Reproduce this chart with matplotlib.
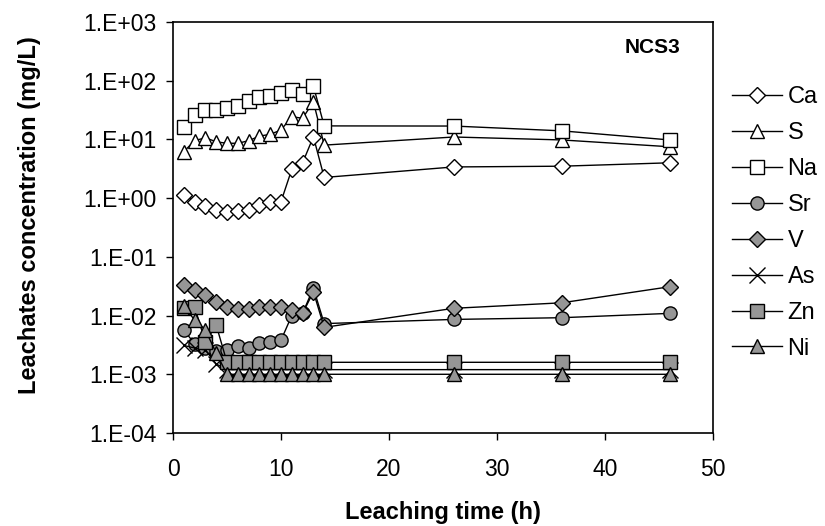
#!/usr/bin/env python3
"""Leachate concentrations over time for sample NCS3 (log scale)."""

import matplotlib

matplotlib.use("Agg")
import matplotlib.pyplot as plt
import numpy as np
from matplotlib.ticker import FixedLocator, FuncFormatter

plt.rcParams["font.family"] = ["Liberation Sans", "DejaVu Sans"]

time_h = [1, 2, 3, 4, 5, 6, 7, 8, 9, 10, 11, 12, 13, 14, 26, 36, 46]

ca = [1.15, 0.87, 0.73, 0.64, 0.57, 0.61, 0.64, 0.76, 0.85, 0.87, 3.1, 4.0, 11.1, 2.25, 3.4, 3.5, 4.0]
s = [6.2, 9.5, 10.7, 9.1, 8.6, 8.6, 9.5, 11.4, 12.2, 14.5, 24.4, 22.9, 43.9, 8.0, 11.0, 9.8, 7.5]
na = [16.4, 26.0, 31.7, 31.7, 33.9, 37.0, 45.0, 53.0, 55.0, 62.0, 69.5, 58.6, 81.0, 17.0, 16.9, 14.0, 9.8]
sr = [0.0057, 0.0033, 0.0028, 0.0025, 0.0026, 0.0030, 0.0028, 0.0034, 0.0036, 0.0038, 0.0100, 0.0109, 0.0295, 0.0073, 0.0086, 0.0092, 0.0109]
v = [0.033, 0.027, 0.022, 0.017, 0.014, 0.013, 0.013, 0.0138, 0.0138, 0.014, 0.0124, 0.0109, 0.0254, 0.0063, 0.0133, 0.0165, 0.031]
as_ = [0.0031, 0.0028, 0.0026, 0.0015, 0.0012, 0.0012, 0.0012, 0.0012, 0.0012, 0.0012, 0.0012, 0.0012, 0.0012, 0.0012, 0.0012, 0.0012, 0.0012]
zn = [0.0133, 0.0141, 0.0035, 0.0069, 0.0016, 0.0016, 0.0016, 0.0016, 0.0016, 0.0016, 0.0016, 0.0016, 0.0016, 0.0016, 0.0016, 0.0016, 0.0016]
ni = [0.0145, 0.0084, 0.0057, 0.0023, 0.001, 0.001, 0.001, 0.001, 0.001, 0.001, 0.001, 0.001, 0.001, 0.001, 0.001, 0.001, 0.001]

labels = ["Ca", "S", "Na", "Sr", "V", "As", "Zn", "Ni"]
y_ticks = [1e-4, 1e-3, 1e-2, 1e-1, 1e0, 1e1, 1e2, 1e3]

GREY = "#969696"
STYLES = [
    dict(marker="D", mfc="white", ms=8.5),
    dict(marker="^", mfc="white", ms=10),
    dict(marker="s", mfc="white", ms=9.5),
    dict(marker="o", mfc=GREY, ms=9.5),
    dict(marker="D", mfc=GREY, ms=8.5),
    dict(marker="x", mfc="none", ms=11),
    dict(marker="s", mfc=GREY, ms=9.5),
    dict(marker="^", mfc=GREY, ms=10),
]


def fmt_sci(val, _pos):
    return f"1.E{int(round(np.log10(val))):+03d}"


def main() -> int:
    fig = plt.figure(figsize=(8.25, 5.26), dpi=100)
    ax = fig.add_axes([173 / 825, 1 - 433 / 526, 540 / 825, 411 / 526])

    series = [ca, s, na, sr, v, as_, zn, ni]
    for values, label, style in zip(series, labels, STYLES):
        ax.plot(time_h, values, color="black", lw=1.0, mec="black", mew=1.0,
                label=label, **style)

    ax.set_yscale("log")
    ax.set_ylim(1e-4, 1e3)
    ax.set_xlim(0, 50)
    ax.yaxis.set_major_locator(FixedLocator(y_ticks))
    ax.yaxis.set_major_formatter(FuncFormatter(fmt_sci))
    ax.yaxis.set_minor_locator(FixedLocator([]))
    ax.set_xticks([0, 10, 20, 30, 40, 50])

    ax.tick_params(axis="both", direction="out", length=5, width=1.0, labelsize=16.5)
    ax.tick_params(axis="y", pad=7)
    ax.tick_params(axis="x", pad=13)
    for spine in ax.spines.values():
        spine.set_linewidth(1.2)

    ax.set_xlabel("Leaching time (h)", fontsize=17, fontweight="bold")
    ax.set_ylabel("Leachates concentration (mg/L)", fontsize=17, fontweight="bold")
    ax.xaxis.set_label_coords(0.5, -0.165)
    ax.yaxis.set_label_coords(-0.245, 0.53)
    ax.text(0.939, 0.938, "NCS3", transform=ax.transAxes, ha="right", va="center",
            fontsize=15, fontweight="bold")

    fig.legend(loc="center left", bbox_to_anchor=(732 / 825, 1 - 223 / 526),
               frameon=False, fontsize=17, borderpad=0, borderaxespad=0,
               handlelength=2.1, handletextpad=0.25, labelspacing=0.59)

    fig.savefig("out.png", dpi=100)
    plt.close(fig)
    return 0


if __name__ == "__main__":
    raise SystemExit(main())
